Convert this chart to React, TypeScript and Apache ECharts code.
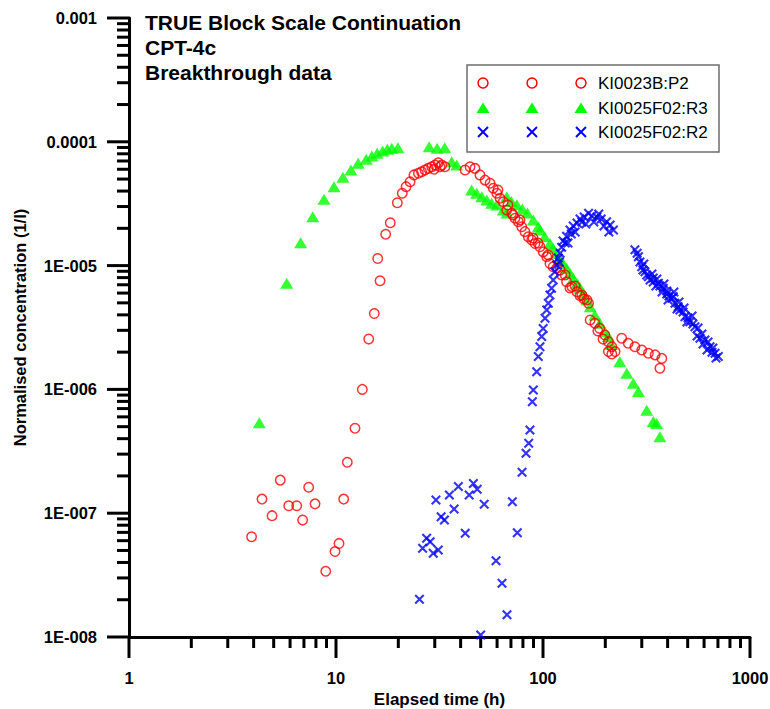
import React, { useEffect, useRef } from "react";
import * as echarts from "echarts";

const FONT = "'Liberation Sans', Arial, Helvetica, sans-serif";

const titleLines = ["TRUE Block Scale Continuation", "CPT-4c", "Breakthrough data"];
const seriesNames = ["KI0023B:P2", "KI0025F02:R3", "KI0025F02:R2"];
const seriesColors = ["#ff0000", "#00ff00", "#0000ff"];

const X_MIN = 1;
const X_MAX = 1000;
const Y_MIN = 1e-8;
const Y_MAX = 1e-3;

const xTickValues = [1, 10, 100, 1000];
const xTickLabels = ["1", "10", "100", "1000"];
const yTickValues = [1e-8, 1e-7, 1e-6, 1e-5, 1e-4, 1e-3];
const yTickLabels = ["1E-008", "1E-007", "1E-006", "1E-005", "0.0001", "0.001"];

// [elapsed time (h), normalised concentration (1/l)]
const p2Data = [
  [3.91, 6.46e-8], [4.39, 1.3e-7], [4.91, 9.55e-8], [5.38, 1.85e-7], [5.91, 1.15e-7],
  [6.46, 1.15e-7], [6.9, 8.8e-8], [7.38, 1.62e-7], [7.92, 1.19e-7], [8.92, 3.4e-8],
  [9.89, 4.9e-8], [10.34, 5.7e-8], [10.89, 1.3e-7], [11.34, 2.58e-7], [12.35, 4.85e-7],
  [13.4, 1.0e-6], [14.39, 2.55e-6], [15.31, 4.1e-6], [15.9, 1.14e-5], [16.32, 7.55e-6],
  [17.38, 1.79e-5], [18.29, 2.22e-5], [19.78, 3.22e-5], [20.9, 3.84e-5], [21.8, 4.34e-5],
  [22.8, 4.76e-5], [23.8, 5.4e-5], [25.0, 5.57e-5], [25.9, 5.73e-5], [26.9, 5.92e-5],
  [27.9, 6.1e-5], [29.0, 6.29e-5], [29.8, 6.0e-5], [30.1, 6.5e-5], [31.2, 6.78e-5],
  [31.8, 6.3e-5], [32.4, 6.5e-5], [33.6, 6.29e-5], [42.0, 5.92e-5], [44.4, 6.29e-5],
  [46.9, 6.1e-5], [49.6, 5.4e-5], [52.5, 4.9e-5], [55.5, 4.62e-5], [57.5, 4.21e-5],
  [59.8, 3.84e-5], [60.6, 4.08e-5], [62.0, 3.5e-5], [64.3, 3.28e-5], [66.8, 2.81e-5],
  [67.7, 3.09e-5], [70.6, 2.65e-5], [71.6, 2.56e-5], [73.2, 2.41e-5], [76.0, 2.26e-5],
  [77.4, 2.34e-5], [78.9, 2.06e-5], [81.8, 1.88e-5], [84.9, 1.71e-5], [88.2, 1.61e-5],
  [89.5, 1.67e-5], [91.5, 1.51e-5], [94.6, 1.52e-5], [96.7, 1.42e-5], [100.3, 1.29e-5],
  [104.2, 1.18e-5], [106, 1.22e-5], [108, 1.04e-5], [112, 9.8e-6], [116.5, 9.5e-6],
  [121, 9.2e-6], [123, 8.4e-6], [128, 8.4e-6], [130, 7.4e-6], [135, 6.6e-6],
  [138, 6.76e-6], [143, 6.84e-6], [146, 6.15e-6], [151, 5.7e-6], [154, 5.79e-6],
  [158, 5.37e-6], [163, 5.27e-6], [166, 4.96e-6], [169, 3.64e-6], [178, 3.42e-6],
  [184, 2.96e-6], [188, 3.11e-6], [195, 2.55e-6], [199, 2.75e-6], [207, 2.43e-6],
  [215, 2.21e-6], [215, 1.93e-6], [207, 2.02e-6], [223, 2.02e-6], [240, 2.59e-6],
  [258, 2.36e-6], [278, 2.21e-6], [300, 2.08e-6], [323, 1.96e-6], [348, 1.9e-6],
  [375, 1.78e-6], [367, 1.48e-6],
];

const r3Data = [
  [4.26, 5.38e-7], [5.78, 7.2e-6], [6.75, 1.53e-5], [7.72, 2.48e-5], [8.75, 3.43e-5],
  [9.78, 4.34e-5], [10.8, 5.17e-5], [11.8, 5.92e-5], [12.8, 6.7e-5], [14.0, 7.22e-5],
  [14.9, 7.68e-5], [15.8, 8.07e-5], [16.8, 8.43e-5], [17.7, 8.7e-5], [18.6, 8.86e-5],
  [19.9, 8.96e-5], [28.2, 9.13e-5], [30.8, 8.86e-5], [33.5, 8.96e-5], [36.2, 6.9e-5],
  [38.3, 6.5e-5], [45.2, 4.08e-5], [47.8, 3.84e-5], [50.6, 3.6e-5], [53.5, 3.39e-5],
  [56.5, 3.19e-5], [59.8, 3.09e-5], [64.3, 2.81e-5], [67.0, 2.66e-5], [66.8, 3.6e-5],
  [70.3, 3.3e-5], [74.8, 3.1e-5], [79.5, 2.87e-5], [84.1, 2.66e-5], [89.8, 2.34e-5],
  [94.9, 2.06e-5], [96.7, 1.94e-5], [102, 1.71e-5], [108, 1.51e-5], [112, 1.38e-5],
  [116.5, 1.26e-5], [120, 1.15e-5], [125, 1.04e-5], [130, 9.5e-6], [135, 8.67e-6],
  [140, 7.9e-6], [146, 7.2e-6], [151, 6.6e-6], [157, 5.97e-6], [163, 5.3e-6],
  [169, 4.66e-6], [178, 3.99e-6], [188, 3.42e-6], [199, 2.92e-6], [207, 2.67e-6],
  [214, 2.3e-6], [235, 1.67e-6], [254, 1.35e-6], [273, 1.12e-6], [289, 9.6e-7],
  [317, 6.8e-7], [341, 5.5e-7], [354, 5.3e-7], [367, 4.15e-7],
];

const r2Data = [
  [25.3, 2.02e-8], [26.2, 5.2e-8], [27.4, 6.27e-8], [28.5, 5.89e-8], [29.5, 4.75e-8],
  [31.2, 5.05e-8], [30.4, 1.28e-7], [32.2, 9.37e-8], [33.4, 8.8e-8], [35.3, 1.4e-7],
  [37.2, 1.08e-7], [39.0, 1.64e-7], [42.1, 6.9e-8], [44.0, 1.4e-7], [46.1, 1.74e-7],
  [48.1, 1.56e-7], [52.0, 1.18e-7], [50.0, 1.04e-8], [59.3, 4.13e-8], [63.4, 2.72e-8],
  [67.0, 1.51e-8], [71.1, 1.24e-7], [75.1, 6.96e-8], [79.2, 2.14e-7], [82.8, 3.05e-7],
  [85.3, 3.67e-7], [86.5, 4.7e-7], [88.8, 7.96e-7], [89.8, 9.9e-7], [93.2, 1.39e-6],
  [94.9, 1.84e-6], [96.7, 2.21e-6], [98.6, 2.67e-6], [100.2, 3.11e-6], [102.3, 3.75e-6],
  [104.2, 4.38e-6], [106.1, 4.96e-6], [108, 5.79e-6], [110, 6.56e-6], [112, 7.65e-6],
  [114.1, 8.93e-6], [116.5, 1.01e-5], [118.5, 1.15e-5], [120, 1.07e-5], [121, 1.26e-5],
  [123, 1.41e-5], [125, 1.58e-5], [128, 1.52e-5], [130, 1.73e-5], [132, 1.52e-5],
  [135, 1.94e-5], [137, 1.8e-5], [140, 2.09e-5], [143, 1.87e-5], [146, 2.21e-5],
  [151, 2.38e-5], [154, 2.25e-5], [158, 2.47e-5], [161, 2.17e-5], [166, 2.65e-5],
  [172, 2.52e-5], [176, 2.25e-5], [182, 2.47e-5], [186, 2.61e-5], [191, 2.38e-5],
  [197, 2.09e-5], [203, 2.26e-5], [208, 1.87e-5], [211, 2.13e-5], [219, 1.94e-5],
  [278, 1.34e-5], [285, 1.26e-5], [289, 1.18e-5], [294, 1.07e-5], [300, 9.8e-6],
  [304, 9.2e-6], [307, 1.03e-5], [311, 8.93e-6], [317, 8.4e-6], [323, 8.13e-6],
  [329, 7.65e-6], [336, 8.55e-6], [341, 7.94e-6], [341, 7.37e-6], [351, 6.84e-6],
  [355, 7.8e-6], [361, 7.2e-6], [367, 6.84e-6], [376, 6.12e-6], [381, 6.56e-6],
  [384, 7.1e-6], [396, 6.24e-6], [396, 5.9e-6], [402, 5.27e-6], [406, 5.68e-6],
  [419, 5.44e-6], [426, 5.6e-6], [429, 6.12e-6], [434, 4.96e-6], [444, 4.46e-6],
  [450, 4.66e-6], [454, 5.08e-6], [459, 4.38e-6], [475, 4.22e-6], [480, 4.55e-6],
  [485, 3.87e-6], [496, 3.5e-6], [502, 3.77e-6], [513, 3.52e-6], [525, 3.92e-6],
  [530, 3.37e-6], [542, 3.21e-6], [555, 2.7e-6], [561, 3.13e-6], [573, 2.59e-6],
  [586, 2.8e-6], [593, 2.33e-6], [606, 2.51e-6], [620, 2.08e-6], [627, 2.41e-6],
  [641, 2.21e-6], [655, 2.0e-6], [662, 2.16e-6], [678, 1.96e-6], [685, 1.79e-6],
  [703, 1.84e-6],
];

// Intermediate log-decade ticks (2..9 within each decade)
function decadeMinorTicks(loExp: number, hiExp: number): number[] {
  const out: number[] = [];
  for (let e = loExp; e < hiExp; e++) {
    for (let k = 2; k <= 9; k++) out.push(Number((k * Math.pow(10, e)).toPrecision(6)));
  }
  return out;
}

const xMinorTicks = decadeMinorTicks(0, 3);
const yMinorTicks = decadeMinorTicks(-8, -3);

function labelFor(values: number[], labels: string[]) {
  return (v: number) => {
    const i = values.findIndex((t) => Math.abs(Math.log10(t) - Math.log10(v)) < 1e-6);
    return i >= 0 ? labels[i] : "";
  };
}

const CROSS = "path://M0,1.8L1.8,0L12,10.2L10.2,12ZM10.2,0L12,1.8L1.8,12L0,10.2Z";

const GRID = { left: 129, top: 18, width: 621, height: 619 };

const axisLabelStyle = {
  fontFamily: FONT,
  fontSize: 16.5,
  fontWeight: "bold" as const,
  color: "#000",
};

// Outward tick marks: position along the axis comes from the log scale,
// the tick starts on the axis line (grid edge)
function tickSeries(dir: "x" | "y", values: number[], length: number) {
  return {
    type: "custom",
    coordinateSystem: "cartesian2d",
    xAxisIndex: 0,
    yAxisIndex: 0,
    silent: true,
    clip: false,
    z: 10,
    data: values.map((v) => (dir === "x" ? [v, 1e-5] : [10, v])),
    renderItem: (params: any, api: any) => {
      const cs = params.coordSys;
      const p = api.coord([api.value(0), api.value(1)]);
      const bottom = cs.y + cs.height;
      const left = cs.x;
      const shape =
        dir === "x"
          ? { x1: p[0], y1: bottom, x2: p[0], y2: bottom + length }
          : { x1: left - length, y1: p[1], x2: left, y2: p[1] };
      return {
        type: "line",
        shape,
        style: { stroke: "#000", lineWidth: 3, lineCap: "butt" },
      };
    },
  };
}

function legendGraphics() {
  const box = { x: 467, y: 65, w: 252, h: 87 };
  const rowsY = [83, 108, 132];
  const colsX = [483, 532, 581];
  const els: any[] = [
    {
      type: "rect",
      shape: { x: box.x, y: box.y, width: box.w, height: box.h },
      style: { fill: "#fff", stroke: "#6e6e6e", lineWidth: 1.5 },
      z: 100,
    },
  ];
  seriesNames.forEach((name, i) => {
    const y = rowsY[i];
    const color = seriesColors[i];
    colsX.forEach((x) => {
      if (i === 0) {
        els.push({
          type: "circle",
          shape: { cx: x, cy: y, r: 5 },
          style: { fill: "none", stroke: color, lineWidth: 1.5 },
          z: 101,
        });
      } else if (i === 1) {
        els.push({
          type: "polygon",
          shape: { points: [[x - 6.5, y + 5], [x + 6.5, y + 5], [x, y - 5.5]] },
          style: { fill: color },
          z: 101,
        });
      } else {
        els.push({
          type: "line",
          shape: { x1: x - 5, y1: y - 5, x2: x + 5, y2: y + 5 },
          style: { stroke: color, lineWidth: 2 },
          z: 101,
        });
        els.push({
          type: "line",
          shape: { x1: x - 5, y1: y + 5, x2: x + 5, y2: y - 5 },
          style: { stroke: color, lineWidth: 2 },
          z: 101,
        });
      }
    });
    els.push({
      type: "text",
      x: 598,
      y,
      style: {
        text: name,
        fontFamily: FONT,
        fontSize: 17,
        fill: "#000",
        verticalAlign: "middle",
        textVerticalAlign: "middle",
      },
      z: 101,
    });
  });
  return els;
}

export default function App() {
  const ref = useRef<HTMLDivElement>(null);

  useEffect(() => {
    if (!ref.current) return;
    const chart = echarts.init(ref.current, undefined, { renderer: "svg" });

    const axisLine = { show: true, onZero: false, lineStyle: { color: "#000", width: 3 } };

    chart.setOption({
      animation: false,
      backgroundColor: "#fff",
      title: {
        text: titleLines.join("\n"),
        left: 145,
        top: 10,
        padding: 0,
        textStyle: {
          fontFamily: FONT,
          fontSize: 21,
          fontWeight: "bold",
          lineHeight: 25,
          color: "#000",
        },
      },
      grid: { ...GRID, containLabel: false, outerBoundsMode: "none" },
      xAxis: {
        type: "log",
        logBase: 10,
        min: X_MIN,
        max: X_MAX,
        position: "bottom",
        axisLine,
        axisTick: { show: false },
        minorTick: { show: false },
        axisLabel: {
          ...axisLabelStyle,
          margin: 32,
          formatter: labelFor(xTickValues, xTickLabels),
        },
        splitLine: { show: false },
        name: "Elapsed time (h)",
        nameLocation: "middle",
        nameGap: 47,
        nameTextStyle: { fontFamily: FONT, fontSize: 17, fontWeight: "bold", color: "#000" },
      },
      yAxis: {
        type: "log",
        logBase: 10,
        min: Y_MIN,
        max: Y_MAX,
        position: "left",
        axisLine,
        axisTick: { show: false },
        minorTick: { show: false },
        axisLabel: {
          ...axisLabelStyle,
          margin: 32,
          formatter: labelFor(yTickValues, yTickLabels),
        },
        splitLine: { show: false },
        name: "Normalised concentration (1/l)",
        nameLocation: "middle",
        nameGap: 101,
        nameTextStyle: { fontFamily: FONT, fontSize: 16.5, fontWeight: "bold", color: "#000" },
      },
      series: [
        tickSeries("x", xTickValues, 21),
        tickSeries("x", xMinorTicks, 11),
        tickSeries("y", yTickValues, 22),
        tickSeries("y", yMinorTicks, 12),
        {
          name: seriesNames[1],
          type: "scatter",
          data: r3Data,
          symbol: "triangle",
          symbolSize: [13, 11],
          itemStyle: { color: seriesColors[1] },
          z: 2,
        },
        {
          name: seriesNames[0],
          type: "scatter",
          data: p2Data,
          symbol: "circle",
          symbolSize: 9.5,
          itemStyle: { color: "rgba(0,0,0,0)", borderColor: seriesColors[0], borderWidth: 1.5 },
          z: 3,
        },
        {
          name: seriesNames[2],
          type: "scatter",
          data: r2Data,
          symbol: CROSS,
          symbolSize: 10,
          itemStyle: { color: seriesColors[2] },
          z: 4,
        },
      ],
      graphic: legendGraphics(),
    });

    return () => chart.dispose();
  }, []);

  return (
    <div
      ref={ref}
      style={{ position: "absolute", left: 0, top: 0, width: 770, height: 709, background: "#fff" }}
    />
  );
}
